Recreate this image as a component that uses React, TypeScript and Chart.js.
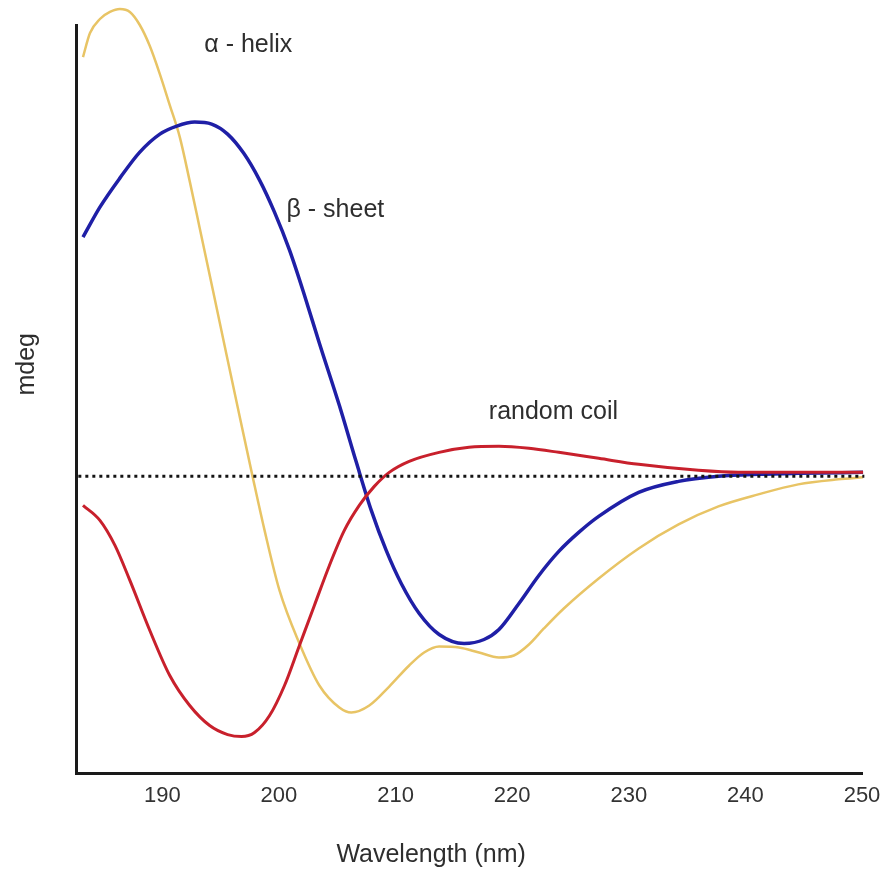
import React, { useEffect, useRef } from "react";
import { Chart, registerables } from "chart.js";

Chart.register(...registerables);

// Wavelength ticks shown along the bottom axis (nm)
const xTicks = [190, 200, 210, 220, 230, 240, 250];

// α-helix spectrum
const helixNm = [
  183.2, 183.8, 184.65, 185.51, 186.36, 187.22, 188.07, 188.93, 189.79, 190.64,
  191.5, 192.35, 193.21, 194.92, 196.63, 197.74, 198.77, 200.05, 201.76, 203.47,
  205.18, 206.21, 207.75, 209.46, 211.17, 212.45, 213.74, 215.45, 217.16, 218.87,
  220.15, 221.44, 222.72, 224.43, 227.42, 230.85, 234.27, 237.69, 241.11, 244.53,
  247.96, 250.09,
];
const helixMdeg = [
  41.9, 44.3, 45.7, 46.4, 46.7, 46.4, 45.1, 43.0, 40.2, 37.1,
  33.9, 29.5, 24.8, 15.4, 6.0, 0, -5.4, -11.4, -16.7, -20.9,
  -23.1, -23.6, -22.9, -21.0, -18.9, -17.6, -17.0, -17.1, -17.6, -18.1,
  -17.9, -16.8, -15.2, -13.2, -10.2, -7.2, -4.8, -3.0, -1.8, -0.8,
  -0.3, -0.1,
];

// β-sheet spectrum
const sheetNm = [
  183.2, 184.65, 186.36, 188.07, 189.79, 191.24, 192.78, 194.23, 195.6, 196.97,
  198.34, 199.62, 200.91, 202.19, 203.47, 205.18, 206.64, 207.92, 209.2, 210.49,
  212.03, 213.74, 215.88, 217.59, 218.87, 220.58, 222.29, 224.0, 225.71, 227.42,
  230.85, 234.27, 237.69, 241.11, 244.53, 250.09,
];
const sheetMdeg = [
  23.9, 26.9, 29.8, 32.4, 34.2, 35.0, 35.4, 35.2, 34.2, 32.3,
  29.6, 26.4, 22.6, 18.1, 13.3, 7.1, 1.4, -3.4, -7.4, -10.7,
  -13.7, -15.8, -16.7, -16.3, -15.3, -12.7, -9.9, -7.5, -5.6, -4.0,
  -1.6, -0.5, 0, 0.2, 0.3, 0.4,
];

// Random coil spectrum
const coilNm = [
  183.2, 184.65, 185.94, 187.22, 188.93, 190.64, 192.35, 194.06, 195.6, 196.8,
  197.91, 199.2, 200.48, 201.76, 203.04, 204.33, 205.61, 206.89, 208.18, 209.46,
  211.17, 213.74, 216.3, 218.87, 221.44, 224.0, 227.42, 230.85, 235.98, 239.4,
  244.53, 250.09,
];
const coilMdeg = [
  -2.9, -4.4, -6.9, -10.4, -15.4, -19.9, -22.9, -24.9, -25.8, -26.0,
  -25.6, -23.9, -20.9, -16.9, -12.9, -8.9, -5.4, -2.9, -1.0, 0.4,
  1.5, 2.4, 2.9, 3.0, 2.8, 2.4, 1.8, 1.2, 0.6, 0.4,
  0.4, 0.4,
];

// Zero baseline
const baselineNm = [182.8, 250.2];
const baselineMdeg = [0, 0];

// Curve labels, anchored in data space (left edge, vertical middle)
const curveLabels = [
  { text: "α - helix", nm: 193.6, mdeg: 43.1 },
  { text: "β - sheet", nm: 200.65, mdeg: 26.6 },
  { text: "random coil", nm: 218.0, mdeg: 6.4 },
];

const FONT = "'Liberation Sans', Arial, Helvetica, sans-serif";
const TEXT_COLOR = "#2e2e2e";

const toPoints = (xs: number[], ys: number[]) => xs.map((x, i) => ({ x, y: ys[i] }));

const annotations = {
  id: "cdAnnotations",
  afterDraw(chart: any) {
    const { ctx, chartArea, scales } = chart;
    const xs = scales.x;
    const ys = scales.y;
    ctx.save();
    ctx.fillStyle = TEXT_COLOR;
    ctx.textBaseline = "middle";
    ctx.textAlign = "left";
    ctx.font = `25px ${FONT}`;
    for (const l of curveLabels) {
      ctx.fillText(l.text, xs.getPixelForValue(l.nm), ys.getPixelForValue(l.mdeg));
    }
    // x-axis title
    ctx.textAlign = "center";
    ctx.fillText("Wavelength (nm)", xs.getPixelForValue(213.05), chartArea.bottom + 82);
    // y-axis title
    ctx.translate(chartArea.left - 49, ys.getPixelForValue(11.2));
    ctx.rotate(-Math.PI / 2);
    ctx.fillText("mdeg", 0, 0);
    ctx.restore();
  },
};

export default function App() {
  const canvasRef = useRef<HTMLCanvasElement | null>(null);

  useEffect(() => {
    if (!canvasRef.current) return;
    const line = (data: any, color: string, width: number, order: number) => ({
      data,
      borderColor: color,
      borderWidth: width,
      pointRadius: 0,
      cubicInterpolationMode: "monotone" as const,
      fill: false,
      clip: false as any,
      order,
    });
    const chart = new Chart(canvasRef.current, {
      type: "line",
      data: {
        datasets: [
          {
            ...line(toPoints(baselineNm, baselineMdeg), "#141414", 3, 0),
            borderDash: [3, 4],
            cubicInterpolationMode: "default" as const,
          },
          line(toPoints(coilNm, coilMdeg), "#c8202c", 3, 1),
          line(toPoints(sheetNm, sheetMdeg), "#1f1fa6", 3.5, 2),
          line(toPoints(helixNm, helixMdeg), "#e8c465", 2.5, 3),
        ],
      },
      options: {
        animation: false,
        responsive: false,
        layout: { padding: { left: 76, right: 19, top: 25, bottom: 53 } },
        plugins: {
          legend: { display: false },
          tooltip: { enabled: false },
        },
        scales: {
          x: {
            type: "linear",
            min: 182.6,
            max: 250,
            afterBuildTicks: (scale: any) => {
              scale.ticks = xTicks.map((v) => ({ value: v }));
            },
            // let the last tick label hang into the right margin
            afterFit: (scale: any) => {
              scale.paddingRight = 0;
              scale.paddingLeft = 0;
            },
            grid: { display: false, drawTicks: false },
            border: { display: true, color: "#1a1a1a", width: 3 },
            ticks: {
              padding: 9,
              color: "#333333",
              font: { family: FONT, size: 22 },
              maxRotation: 0,
              autoSkip: false,
            },
          },
          y: {
            type: "linear",
            min: -29.7,
            max: 45.1,
            grid: { display: false, drawTicks: false },
            border: { display: true, color: "#1a1a1a", width: 3 },
            ticks: { display: false },
          },
        },
      },
      plugins: [annotations],
    });
    return () => chart.destroy();
  }, []);

  return (
    <div style={{ position: "absolute", left: 0, top: 0, width: 881, height: 871, background: "#ffffff" }}>
      <canvas ref={canvasRef} width={881} height={871} />
    </div>
  );
}
